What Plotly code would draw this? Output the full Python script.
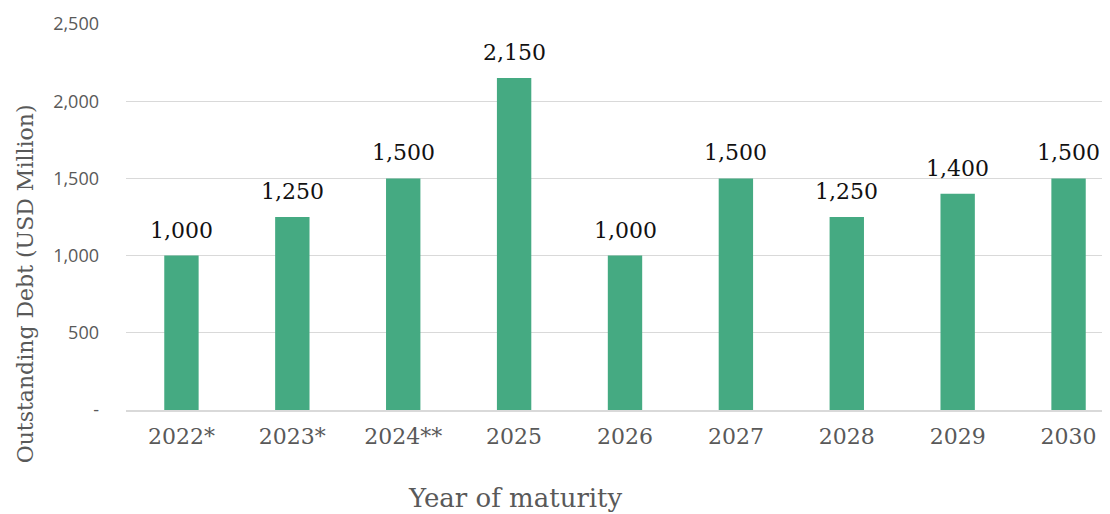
import plotly.graph_objects as go

years = ["2022*", "2023*", "2024**", "2025", "2026", "2027", "2028", "2029", "2030"]
debt = [1000, 1250, 1500, 2150, 1000, 1500, 1250, 1400, 1500]
y_tickvals = [0, 500, 1000, 1500, 2000, 2500]
y_ticktext = ["-", "500", "1,000", "1,500", "2,000", "2,500"]

serif = "DejaVu Serif"

fig = go.Figure(go.Bar(
    x=years, y=debt,
    marker=dict(color="#45AA82", line=dict(width=0)),
    hoverinfo="x+y",
))

for i, v in enumerate(debt):
    fig.add_annotation(
        x=i, y=v, text=f"{v:,}", showarrow=False,
        yanchor="bottom", yshift=11,
        font=dict(family=serif, size=22, color="#111111"),
    )

# Axis titles (placed like the original, off-centre)
fig.add_annotation(
    text="Year of maturity", xref="paper", yref="paper",
    x=0.39, y=-0.228, xanchor="center", yanchor="middle", showarrow=False,
    font=dict(family=serif, size=26, color="#595959"),
)
fig.add_annotation(
    text="Outstanding Debt (USD Million)", xref="paper", yref="paper",
    x=-0.101, y=0.326, xanchor="center", yanchor="middle", showarrow=False,
    textangle=-90,
    font=dict(family=serif, size=22, color="#595959"),
)

fig.update_layout(
    width=1116, height=514,
    margin=dict(l=118, r=0, t=16, b=112),
    paper_bgcolor="white", plot_bgcolor="white",
    bargap=0.69,
    showlegend=False,
    xaxis=dict(
        type="category", categoryorder="array", categoryarray=years,
        range=[-0.5, len(years) - 0.5],
        tickfont=dict(family=serif, size=22, color="#595959"),
        showline=True, linecolor="#D9D9D9", linewidth=1.5,
        ticks="", showgrid=False, ticklabelstandoff=6,
        automargin=False,
    ),
    yaxis=dict(
        range=[0, 2500],
        tickvals=y_tickvals, ticktext=y_ticktext,
        tickfont=dict(family="Open Sans", size=18, color="#595959"),
        showgrid=True, gridcolor="#D9D9D9", gridwidth=1.2,
        zeroline=False, ticks="", ticklabelstandoff=26,
        automargin=False,
    ),
)

fig.write_html("out.html")
